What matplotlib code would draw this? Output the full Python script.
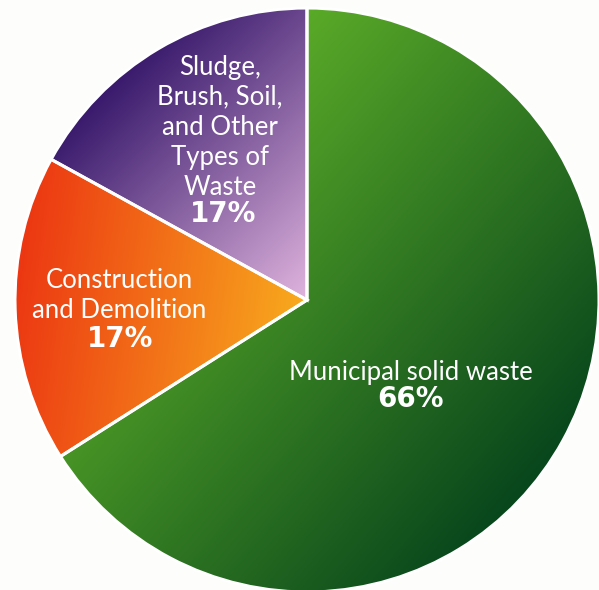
import numpy as np
import matplotlib.pyplot as plt
from matplotlib.colors import LinearSegmentedColormap

labels = ['Municipal solid waste', 'Construction\nand Demolition',
          'Sludge,\nBrush, Soil,\nand Other\nTypes of\nWaste']
values = [66, 17, 17]
pct_text = ['66%', '17%', '17%']

# gradient colours per slice (start, end) and direction of the gradient
grad_cols = [('#5aaa28', '#07451c'), ('#ec3512', '#f8ab1e'), ('#36176a', '#e0b4de')]
grad_dirs = [(0.75, -0.65), (1.0, -0.15), (0.7, -0.7)]

plt.rcParams['font.family'] = ['Lato', 'DejaVu Sans']

fig = plt.figure(figsize=(5.99, 5.90), dpi=100)
ax = fig.add_axes([0, 0, 1, 1])

wedges, _ = ax.pie(values, startangle=90, counterclock=False, radius=1.0,
                   wedgeprops=dict(edgecolor='white', linewidth=2.2))
ax.axis('off')

xx, yy = np.meshgrid(np.linspace(-1.06, 1.06, 400), np.linspace(-1.06, 1.06, 400))
for w, (c0, c1), (dx, dy) in zip(wedges, grad_cols, grad_dirs):
    # project pixels onto gradient direction, normalise over the wedge
    t = xx * dx + yy * dy
    verts = w.get_path().vertices
    pv = verts[:, 0] * dx + verts[:, 1] * dy
    t = (t - pv.min()) / (pv.max() - pv.min())
    cmap = LinearSegmentedColormap.from_list('g', [c0, c1])
    im = ax.imshow(t, cmap=cmap, vmin=0, vmax=1, origin='lower',
                   extent=(-1.06, 1.06, -1.06, 1.06), zorder=1)
    im.set_clip_path(w)
    w.set_facecolor('none')
    w.set_zorder(2)

ax.set_xlim(-307 / 292, 292 / 292)
ax.set_ylim(-290 / 292, 300 / 292)

def px(x, y):
    return (x - 307) / 292, (300 - y) / 292

# label positions (pixel coords of reference)
txt_pos = [(411, 372), (119, 295), (220, 127)]
pct_pos = [(411, 399), (120, 339), (223, 214)]

for lab, (x, y) in zip(labels, txt_pos):
    ax.text(*px(x, y), lab, ha='center', va='center', color='white',
            fontsize=18.5, linespacing=1.25, zorder=3)
for p, (x, y) in zip(pct_text, pct_pos):
    ax.text(*px(x, y), p, ha='center', va='center', color='white',
            fontsize=20, fontweight='bold', family='DejaVu Sans', zorder=3)

fig.savefig('out.png', dpi=100, facecolor='#fdfdfb')
